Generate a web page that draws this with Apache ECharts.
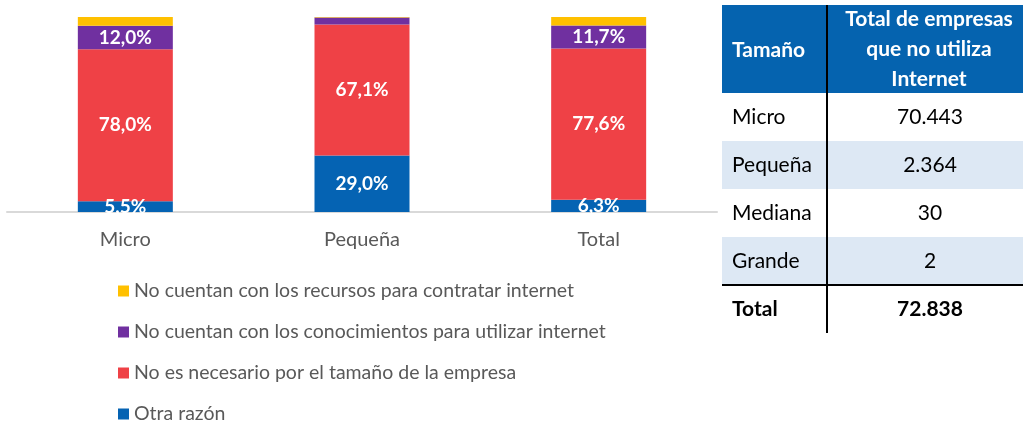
<!DOCTYPE html>
<html>
<head>
<meta charset="utf-8">
<script src="https://cdn.jsdelivr.net/npm/echarts@6/dist/echarts.min.js"></script>
<style>
  html, body { margin: 0; padding: 0; background: #fff; }
  #chart { width: 1023px; height: 423px; }
</style>
</head>
<body>
<div id="chart"></div>
<script>
const categories = ['Micro', 'Pequeña', 'Total'];
const seriesNames = [
    'Otra razón',
    'No es necesario por el tamaño de la empresa',
    'No cuentan con los conocimientos para utilizar internet',
    'No cuentan con los recursos para contratar internet',
];
const otraRazon = [5.5, 29.0, 6.3];
const noNecesario = [78.0, 67.1, 77.6];
const noConocimientos = [12.0, 3.7, 11.7];
const noRecursos = [4.5, 0.2, 4.4];
const seriesColors = ['#0563B3', '#EF4146', '#7030A0', '#FFC000'];

const tableHeader = ['Tamaño', 'Total de empresas\nque no utiliza\nInternet'];
const tableSizes = ['Micro', 'Pequeña', 'Mediana', 'Grande', 'Total'];
const tableCounts = ['70.443', '2.364', '30', '2', '72.838'];

const font = 'Lato';

function pctLabel(p) {
    if (p.value < 5) return '';
    return p.value.toFixed(1).replace('.', ',') + '%';
}

const values = [otraRazon, noNecesario, noConocimientos, noRecursos];

const series = values.map(function (data, i) {
    return {
        name: seriesNames[i],
        type: 'bar',
        stack: 'total',
        data: data,
        barWidth: 95,
        itemStyle: { color: seriesColors[i] },
        label: {
            show: i < 3,
            position: 'inside',
            color: '#ffffff',
            fontFamily: font,
            fontWeight: 'bold',
            fontSize: 19,
            formatter: pctLabel,
        },
    };
});

// table drawn with graphic elements
const tableLeft = 722;
const tableRight = 1023;
const colSplit = 827;
const headTop = 5;
const headBottom = 93;
const rowH = 48;
const graphic = [];

graphic.push({
    type: 'rect',
    shape: { x: tableLeft, y: headTop, width: tableRight - tableLeft, height: headBottom - headTop },
    style: { fill: '#0563AF' },
});
tableSizes.forEach(function (name, i) {
    const y = headBottom + i * rowH;
    if (i % 2 === 1 && i < 4) {
        graphic.push({
            type: 'rect',
            shape: { x: tableLeft, y: y, width: tableRight - tableLeft, height: rowH },
            style: { fill: '#DDE8F4' },
        });
    }
    const bold = name === 'Total';
    graphic.push({
        type: 'text',
        x: 732, y: y + rowH / 2,
        style: {
            text: name, fill: '#000', fontFamily: font, fontSize: 21,
            fontWeight: bold ? 'bold' : 'normal', verticalAlign: 'middle', align: 'left',
        },
    });
    graphic.push({
        type: 'text',
        x: 930, y: y + rowH / 2,
        style: {
            text: tableCounts[i], fill: '#000', fontFamily: font, fontSize: 21,
            fontWeight: bold ? 'bold' : 'normal', verticalAlign: 'middle', align: 'center',
        },
    });
});
graphic.push({
    type: 'text',
    x: 732, y: (headTop + headBottom) / 2 + 1,
    style: {
        text: tableHeader[0], fill: '#fff', fontFamily: font, fontSize: 21,
        fontWeight: 'bold', verticalAlign: 'middle', align: 'left',
    },
});
graphic.push({
    type: 'text',
    x: 929, y: (headTop + headBottom) / 2,
    style: {
        text: tableHeader[1], fill: '#fff', fontFamily: font, fontSize: 21, lineHeight: 30,
        fontWeight: 'bold', verticalAlign: 'middle', align: 'center',
    },
});
graphic.push({
    type: 'line',
    shape: { x1: colSplit, y1: headTop, x2: colSplit, y2: headBottom + 5 * rowH },
    style: { stroke: '#000', lineWidth: 2 },
});
graphic.push({
    type: 'line',
    shape: { x1: tableLeft, y1: headBottom + 4 * rowH, x2: tableRight, y2: headBottom + 4 * rowH },
    style: { stroke: '#000', lineWidth: 2 },
});

const option = {
    animation: false,
    grid: {
        left: 7,
        right: 306,
        top: 17,
        bottom: 211,
    },
    legend: {
        orient: 'vertical',
        left: 118,
        top: 281,
        height: 200,
        padding: 0,
        itemWidth: 11,
        itemHeight: 11,
        itemGap: 21,
        icon: 'rect',
        data: seriesNames.slice().reverse(),
        textStyle: { color: '#595959', fontFamily: font, fontSize: 19.5 },
    },
    xAxis: {
        type: 'category',
        data: categories,
        axisLine: { lineStyle: { color: '#D9D9D9', width: 2 } },
        axisTick: { show: false },
        axisLabel: { color: '#595959', fontFamily: font, fontSize: 20, margin: 18 },
    },
    yAxis: {
        type: 'value',
        min: 0,
        max: 100,
        show: false,
        splitLine: { show: false },
    },
    series: series,
    graphic: graphic,
};

const chart = echarts.init(document.getElementById('chart'));
chart.setOption(option);
</script>
</body>
</html>
